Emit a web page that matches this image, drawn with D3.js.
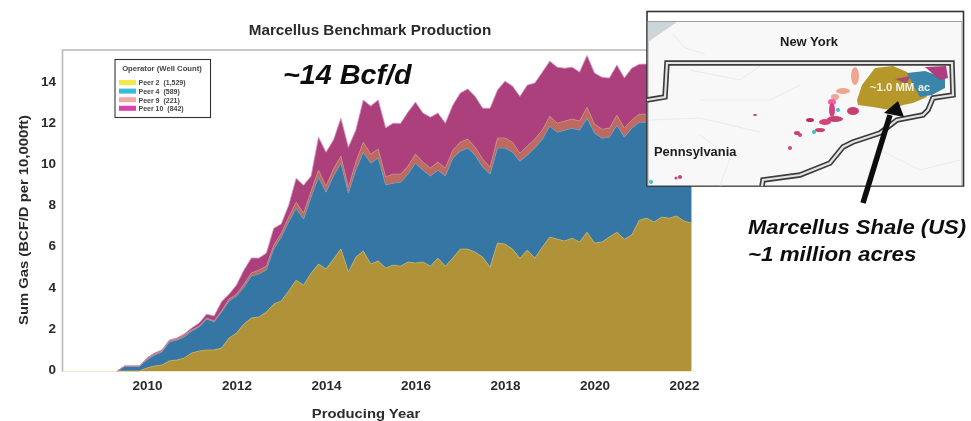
<!DOCTYPE html>
<html>
<head>
<meta charset="utf-8">
<script src="https://cdnjs.cloudflare.com/ajax/libs/d3/7.8.5/d3.min.js"></script>
<style>
  html, body { margin: 0; padding: 0; background: #fff; overflow: hidden; }
  text { font-family: "Liberation Sans", Arial, sans-serif; }
</style>
</head>
<body>
<div id="chart"></div>
<script>
// Two-monthly readings, starting at 2009.33
const startYear = 2009 + 1 / 3;
const peer2 = [0,0,0,0,.15,.24,.29,.49,.53,.63,.87,.97,1.02,1.02,1.12,1.6,1.84,2.28,2.57,2.62,2.86,3.25,3.4,3.88,4.41,4.17,4.75,5.19,4.95,5.43,5.92,4.8,5.53,5.82,5.19,5.34,5.0,5.14,5.09,5.29,5.24,5.29,5.09,5.48,5.09,5.48,5.92,5.92,5.77,5.53,5.04,6.21,6.16,5.92,5.48,5.87,5.48,6.01,6.5,6.4,6.31,6.45,6.26,6.74,6.21,6.26,6.5,6.74,6.4,6.6,7.32,7.42,7.23,7.47,7.42,7.52,7.28,7.18];
const peer4 = [0,.24,.24,.24,.39,.53,.63,.92,.97,1.02,1.07,1.16,1.5,1.36,1.75,1.79,1.79,1.79,2.04,2.09,2.04,2.67,3.1,3.35,3.49,3.2,3.69,4.22,3.73,4.03,4.17,3.83,4.22,4.8,4.9,5.0,4.03,3.98,4.07,4.27,4.85,4.46,4.37,4.27,4.37,4.85,4.75,4.9,4.7,4.37,4.51,4.61,4.66,4.7,4.7,4.61,5.34,5.24,5.38,5.19,5.38,5.34,5.43,5.53,5.34,5.04,4.85,5.19,4.95,5.19,4.75,4.66,4.75,4.7,4.7,4.7,4.75,4.75];
const peer9 = [0,0,0,0,.05,.05,.05,.05,.05,.1,.05,.05,.05,.05,.05,.1,.1,.15,.15,.19,.19,.19,.19,.24,.29,.29,.29,.34,.29,.34,.34,.29,.39,.49,.44,.44,.39,.44,.39,.39,.44,.39,.39,.39,.39,.39,.44,.44,.39,.39,.34,.49,.49,.49,.39,.44,.44,.44,.49,.44,.44,.44,.44,.53,.44,.44,.44,.49,.44,.39,.39,.39,.39,.39,.39,.39,.39,.39];
const peer10 = [0,0,0,0,.05,.05,.05,.05,.05,.05,.1,.15,.19,.24,.44,.24,.44,.68,.73,.58,.63,.82,.44,.58,1.16,1.36,.73,1.6,1.65,1.41,1.84,1.94,1.55,2.04,2.33,2.38,2.38,2.47,2.47,2.62,2.52,2.38,2.47,2.38,2.18,2.18,2.38,2.43,2.47,2.47,2.86,2.33,2.76,2.72,2.76,2.96,2.72,2.81,2.67,2.72,2.57,2.52,2.38,2.52,2.47,2.52,2.43,2.43,2.43,2.52,2.43,2.43,2.33,2.43,2.43,2.43,2.38,2.38];

const seriesKeys = ["peer2", "peer4", "peer9", "peer10"];
const seriesColors = ["#b09238", "#3576a5", "#bf6a60", "#ab417c"];
const seriesEdges = ["#c9b25c", "#6b9bb8", "#c98a80", "#d58fc0"];
const legendLabels = ["Peer 2  (1,529)", "Peer 4  (589)", "Peer 9  (221)", "Peer 10  (842)"];
const legendColors = ["#f4e84a", "#3db9de", "#f5a6a8", "#dc3fb4"];
const xTicks = [2010, 2012, 2014, 2016, 2018, 2020, 2022];
const yTicks = [0, 2, 4, 6, 8, 10, 12, 14];

// Inset map outlines, in page pixels
const stateLine = [[647,100],[665,97],[667,63],[952,63],[953,95],[933,98],[928,110],[923,115],[897,120],[880,133],[853,142],[843,147],[830,163],[800,175],[763,180],[762,186]];
const goldAcreage = [[857,100],[862,85],[875,68],[893,66],[907,72],[920,87],[927,97],[913,103],[903,105],[890,110],[873,107],[858,105]];
const blueAcreage = [[907,73],[925,71],[945,78],[945,88],[932,95],[920,97],[915,88]];
const magentaAcreage = [[925,67],[946,66],[948,78],[940,80]];
const magentaSmall = [[895,79],[910,76],[907,84]];
const specks = [
  [855,76,4,9,"#f0a58f"], [843,91,7,3,"#f0a58f"], [835,97,4,3,"#f0a58f"], [832,102,4,3,"#ee60a8"], [832,110,3,7,"#d8417f"],
  [853,111,6,4,"#c83f70"], [835,119,8,3,"#c83f70"], [825,122,6,3,"#d8417f"], [810,120,4,2,"#b5325f"], [820,130,5,2,"#c83f70"],
  [838,110,2,2,"#3cc0c0"], [814,132,2,2,"#3cc0c0"], [797,133,3,2,"#c83f70"], [800,135,2,2,"#d8417f"], [755,115,2,1,"#c83f70"],
  [680,177,2,2,"#c83f70"], [676,178,1.5,1.5,"#d8417f"], [651,182,2,2,"#3cc0c0"], [790,148,2,2,"#d8417f"]
];
const mapRoads = [
  [[673,34],[685,48],[705,54]], [[760,66],[740,80],[690,70]], [[650,120],[700,118],[760,132]],
  [[700,135],[730,158],[720,186]], [[800,85],[770,100],[700,100]], [[880,150],[920,170],[960,160]]
];

const width = 971, height = 421;

const svg = d3.select("#chart").append("svg")
  .attr("width", width)
  .attr("height", height);

const defs = svg.append("defs");
defs.append("filter").attr("id", "soft").append("feGaussianBlur").attr("stdDeviation", 0.5);

// The source screenshot was stretched sideways, so its lettering is too
function widen(sel, k) {
  sel.each(function () {
    d3.select(this)
      .attr("textLength", this.getComputedTextLength() * k)
      .attr("lengthAdjust", "spacingAndGlyphs");
  });
}

const rows = peer2.map((d, i) => ({
  year: startYear + i / 6,
  peer2: d, peer4: peer4[i], peer9: peer9[i], peer10: peer10[i]
}));

const x = d3.scaleLinear().domain([2010, 2022]).range([147, 684]);
const y = d3.scaleLinear().domain([0, 14]).range([371, 82.6]);
const leftEdge = 62.5;

const stack = d3.stack().keys(seriesKeys)(rows);
const area = d3.area()
  .x(d => x(d.data.year))
  .y0(d => y(d[0]))
  .y1(d => y(d[1]));

const g = svg.append("g").attr("filter", "url(#soft)");

// Frame
g.append("path")
  .attr("d", `M${leftEdge},372V50H660`)
  .attr("fill", "none").attr("stroke", "#b9b9b9").attr("stroke-width", 1.6);
g.append("line")
  .attr("x1", leftEdge).attr("x2", 694).attr("y1", 371.5).attr("y2", 371.5)
  .attr("stroke", "#efe9c8").attr("stroke-width", 1);

// Stacked areas
g.append("g").selectAll("path")
  .data(stack)
  .join("path")
  .attr("d", area)
  .attr("fill", (d, i) => seriesColors[i]);

g.append("g").selectAll("path")
  .data(stack)
  .join("path")
  .attr("d", d3.line().x(d => x(d.data.year)).y(d => y(d[1])))
  .attr("fill", "none")
  .attr("stroke", (d, i) => seriesEdges[i])
  .attr("stroke-width", 0.8);

// Axes
const xAxis = g.append("g")
  .attr("transform", "translate(0,371)")
  .call(d3.axisBottom(x).tickValues(xTicks).tickFormat(d3.format("d")).tickSize(0).tickPadding(10));
const yAxis = g.append("g")
  .attr("transform", `translate(${leftEdge},0)`)
  .call(d3.axisLeft(y).tickValues(yTicks).tickSize(0).tickPadding(6.5));
xAxis.select(".domain").remove();
yAxis.select(".domain").remove();
g.selectAll(".tick text")
  .attr("font-size", 12.4).attr("font-weight", 700).attr("fill", "#2c2c2c")
  .style("font-family", '"Liberation Sans", Arial, sans-serif')
  .call(widen, 1.09);
yAxis.selectAll(".tick text").attr("dy", "0.2em");

g.append("text").attr("x", 370).attr("y", 34.5).attr("text-anchor", "middle")
  .attr("font-size", 14).attr("font-weight", 700).attr("fill", "#2c2c2c")
  .text("Marcellus Benchmark Production").call(widen, 1.09);
g.append("text").attr("x", 366).attr("y", 418).attr("text-anchor", "middle")
  .attr("font-size", 13.6).attr("font-weight", 700).attr("fill", "#2c2c2c")
  .text("Producing Year").call(widen, 1.09);
g.append("text").attr("transform", "translate(27.5,220) rotate(-90)").attr("text-anchor", "middle")
  .attr("font-size", 13.6).attr("font-weight", 700).attr("fill", "#2c2c2c")
  .text("Sum Gas (BCF/D per 10,000ft)").call(widen, 1.09);

g.append("text").attr("x", 283).attr("y", 83.5)
  .attr("font-size", 27).attr("font-weight", 700).attr("font-style", "italic").attr("fill", "#111")
  .text("~14 Bcf/d").call(widen, 1.065);

// Legend
const legend = g.append("g");
legend.append("rect")
  .attr("x", 115).attr("y", 59.5).attr("width", 95.5).attr("height", 58)
  .attr("fill", "#fff").attr("stroke", "#333").attr("stroke-width", 1.1);
legend.append("text").attr("x", 162).attr("y", 70.5).attr("text-anchor", "middle")
  .attr("font-size", 7.7).attr("font-weight", 700).attr("fill", "#444")
  .text("Operator (Well Count)");
const legendRow = legend.selectAll("g.row")
  .data(legendLabels)
  .join("g")
  .attr("class", "row")
  .attr("transform", (d, i) => `translate(119,${80 + i * 8.6})`);
legendRow.append("rect")
  .attr("width", 17).attr("height", 5)
  .attr("fill", (d, i) => legendColors[i]);
legendRow.append("text")
  .attr("x", 19.5).attr("y", 5.3)
  .attr("font-size", 7).attr("font-weight", 700).attr("fill", "#444")
  .attr("xml:space", "preserve").style("white-space", "pre")
  .text(d => d);

// Inset map
const inset = svg.append("g").attr("filter", "url(#soft)");
const outline = d3.line();
const closed = d3.line().curve(d3.curveLinearClosed);

inset.append("rect")
  .attr("x", 647).attr("y", 11.5).attr("width", 316.5).attr("height", 174.5)
  .attr("fill", "#fff").attr("stroke", "#2f3438").attr("stroke-width", 1.6);
inset.append("rect")
  .attr("x", 648).attr("y", 21.5).attr("width", 314).attr("height", 164)
  .attr("fill", "#f8f8f8").attr("stroke", "#a0a0a0").attr("stroke-width", 1);
inset.append("path")
  .attr("d", closed([[648,22],[677,22],[648,42]]))
  .attr("fill", "#ccd6d9");
inset.selectAll("path.road")
  .data(mapRoads)
  .join("path")
  .attr("class", "road")
  .attr("d", outline)
  .attr("fill", "none").attr("stroke", "#e6e6e6").attr("stroke-width", 0.8);

inset.selectAll("ellipse")
  .data(specks)
  .join("ellipse")
  .attr("cx", d => d[0]).attr("cy", d => d[1])
  .attr("rx", d => d[2]).attr("ry", d => d[3])
  .attr("fill", d => d[4]);

inset.append("path").attr("d", closed(goldAcreage)).attr("fill", "#b5972c");
inset.append("path").attr("d", closed(blueAcreage)).attr("fill", "#3a86a8");
inset.append("path").attr("d", closed(magentaAcreage)).attr("fill", "#b03d80");
inset.append("path").attr("d", closed(magentaSmall)).attr("fill", "#a94a6c");

inset.append("path").attr("d", outline(stateLine))
  .attr("fill", "none").attr("stroke", "#3c3c3c").attr("stroke-width", 5.5);
inset.append("path").attr("d", outline(stateLine))
  .attr("fill", "none").attr("stroke", "#e4e4e4").attr("stroke-width", 2.2);

inset.append("text").attr("x", 780).attr("y", 46)
  .attr("font-size", 13).attr("font-weight", 700).attr("fill", "#1c1c1c").text("New York");
inset.append("text").attr("x", 654).attr("y", 156)
  .attr("font-size", 12.9).attr("font-weight", 700).attr("fill", "#1c1c1c").text("Pennsylvania");
inset.append("text").attr("x", 870).attr("y", 91)
  .attr("font-size", 11.3).attr("font-weight", 700).attr("fill", "#f3efe0").text("~1.0 MM");
inset.append("text").attr("x", 918).attr("y", 91)
  .attr("font-size", 11).attr("font-weight", 700).attr("fill", "#e9f2f5").text("ac");

// Arrow and callout
const callout = svg.append("g").attr("filter", "url(#soft)");
callout.append("line")
  .attr("x1", 863).attr("y1", 203).attr("x2", 890).attr("y2", 115)
  .attr("stroke", "#111").attr("stroke-width", 5.5);
callout.append("path")
  .attr("d", closed([[898,101],[904,117],[884,113]]))
  .attr("fill", "#111");
callout.append("text").attr("x", 748).attr("y", 234)
  .attr("font-size", 21).attr("font-weight", 700).attr("font-style", "italic").attr("fill", "#111")
  .text("Marcellus Shale (US)").call(widen, 1.05);
callout.append("text").attr("x", 748).attr("y", 261)
  .attr("font-size", 21).attr("font-weight", 700).attr("font-style", "italic").attr("fill", "#111")
  .text("~1 million acres").call(widen, 1.065);
</script>
</body>
</html>
